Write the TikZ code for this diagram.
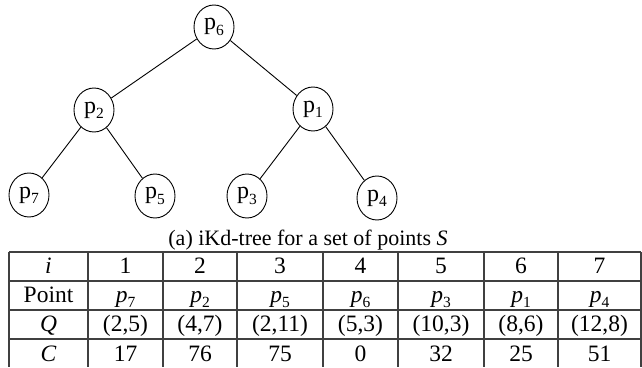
\documentclass[tikz,border=0pt]{standalone}
\usepackage{fontspec}
\setmainfont{Liberation Serif}
\usetikzlibrary{shapes.geometric}
\newcommand{\pnode}[1]{p\raisebox{-0.22em}{\fontsize{15.5}{15.5}\selectfont #1}}
\newcommand{\ipt}[1]{\textit{p}\raisebox{-0.22em}{\fontsize{15.5}{15.5}\selectfont #1}}
\begin{document}
\begin{tikzpicture}[x=1pt,y=-1pt,
  tnode/.style={ellipse,draw,line width=0.9pt,minimum width=40pt,minimum height=44pt,inner sep=0pt,font=\fontsize{24}{26}\selectfont},
  edge/.style={line width=0.9pt},
  grid/.style={line width=1.3pt,black!75},
  cell/.style={anchor=base,inner sep=0pt,font=\fontsize{23.5}{26}\selectfont},
  capt/.style={anchor=base,inner sep=0pt,font=\fontsize{22}{24}\selectfont}]
\useasboundingbox (0,0) rectangle (642,367);
% tree
\node[tnode] (p6) at (214,27) {\pnode{6}};
\node[tnode] (p2) at (94,110) {\pnode{2}};
\node[tnode] (p1) at (313,109) {\pnode{1}};
\node[tnode] (p7) at (29,195) {\pnode{7}};
\node[tnode] (p5) at (155,196) {\pnode{5}};
\node[tnode] (p3) at (247,196) {\pnode{3}};
\node[tnode] (p4) at (377,198) {\pnode{4}};
\draw[edge] (p6) -- (p2);
\draw[edge] (p6) -- (p1);
\draw[edge] (p2) -- (p7);
\draw[edge] (p2) -- (p5);
\draw[edge] (p1) -- (p3);
\draw[edge] (p1) -- (p4);
% caption
\node[capt] (cap) at (308,245) {(a) iKd-tree for a set of points \textit{S}};
% table grid
\foreach \y in {252,281,310,339} \draw[grid] (9,\y) -- (641,\y);
\foreach \x in {9,88,163,237,323,398,484,558,641} \draw[grid] (\x,252) -- (\x,367);
% row labels
\node[cell] (ri) at (48.5,273) {\textit{i}};
\node[cell] (rp) at (48.5,302) {Point};
\node[cell] (rq) at (48.5,331) {\textit{Q}};
\node[cell] (rc) at (48.5,361) {\textit{C}};
% columns
\foreach \n/\x/\p/\q/\c in {1/125.5/7/{(2,5)}/17, 2/200/2/{(4,7)}/76, 3/280/5/{(2,11)}/75, 4/360.5/6/{(5,3)}/0, 5/441/3/{(10,3)}/32, 6/521/1/{(8,6)}/25, 7/599.5/4/{(12,8)}/51}{
  \node[cell] (i\n) at (\x,273) {\n};
  \node[cell] (pt\n) at (\x,302) {\ipt{\p}};
  \node[cell] (q\n) at (\x,331) {\q};
  \node[cell] (c\n) at (\x,361) {\c};
}
\end{tikzpicture}
\end{document}
